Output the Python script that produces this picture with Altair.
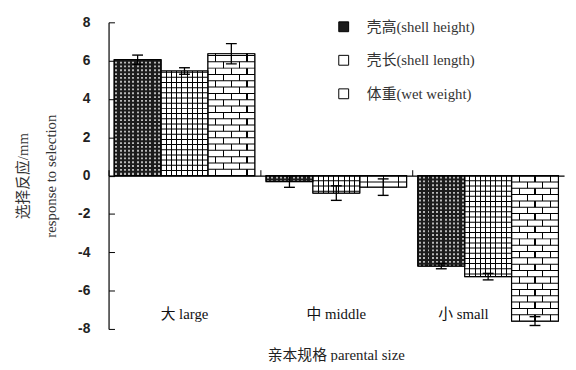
import altair as alt
import pandas as pd

# ---------------- data ----------------
categories = ["大 large", "中 middle", "小 small"]
series = ["壳高(shell height)", "壳长(shell length)", "体重(wet weight)"]
shell_height = [6.05, -0.31, -4.72]
shell_height_err = [0.24, 0.30, 0.14]
shell_length = [5.46, -0.91, -5.27]
shell_length_err = [0.17, 0.38, 0.17]
wet_weight = [6.36, -0.60, -7.59]
wet_weight_err = [0.53, 0.43, 0.23]
y_ticks = [-8, -6, -4, -2, 0, 2, 4, 6, 8]

# ---------------- layout / style ----------------
W, H = 462, 311
PPU = H / 16.0
BAR_PO = 0.12
BW = (W / 3.0) / (3 + 2 * BAR_PO)
SERIF = "Liberation Serif, Noto Sans CJK SC"
SANS = "Liberation Sans, Arial"

table = {
    series[0]: (shell_height, shell_height_err),
    series[1]: (shell_length, shell_length_err),
    series[2]: (wet_weight, wet_weight_err),
}
rows = []
for s, (vals, errs) in table.items():
    for c, v, e in zip(categories, vals, errs):
        rows.append(dict(cat=c, series=s, value=v, lo=v - e, hi=v + e))
df = pd.DataFrame(rows)


def hlines(sname, step, centers=False, parity=None):
    vals = table[sname][0]
    out = []
    for c, v in zip(categories, vals):
        sign = 1 if v > 0 else -1
        k = 1 if not centers else 0
        while True:
            pos = (k + 0.5) * step if centers else k * step
            lim = (k + 1) * step if centers else pos + 0.04
            if lim > abs(v):
                break
            if parity is None or k % 2 == parity:
                out.append(dict(cat=c, series=sname, value=sign * pos))
            k += 1
    return pd.DataFrame(out)


def vgrad(positions, bg, fg, half):
    stops = [{"offset": 0, "color": bg}]
    for p in positions:
        stops += [
            {"offset": p - half, "color": bg},
            {"offset": p - half, "color": fg},
            {"offset": p + half, "color": fg},
            {"offset": p + half, "color": bg},
        ]
    stops.append({"offset": 1, "color": bg})
    return {"gradient": "linear", "x1": 0, "x2": 1, "y1": 0, "y2": 0, "stops": stops}


HALF = 0.55 / BW
dots_grad = vgrad([(i + 0.5) / 11 for i in range(11)], "#1c1c1c", "#b8b8b8", 1.0 / BW)
grid_grad = vgrad([i / 9 for i in range(1, 9)], "white", "black", HALF)
brickA_grad = vgrad([1 / 6, 1 / 2, 5 / 6], "white", "black", HALF)
brickB_grad = vgrad([1 / 3, 2 / 3], "white", "black", HALF)

xaxis = alt.Axis(
    orient="top", offset=-H / 2, domain=True, domainColor="black", domainWidth=1.2,
    ticks=True, tickColor="black", tickSize=6, bandPosition=0, grid=False,
    labelAngle=0, labelBaseline="middle", labelAlign="center",
    labelPadding={"expr": "-146"},
    labelOffset={"condition": {"test": "datum.value == '小 small'", "value": -25}, "value": 0},
    labelFont=SERIF, labelFontSize=15, labelColor="#111", title=None, zindex=1,
)
yaxis = alt.Axis(
    values=y_ticks, domain=True, domainColor="black", domainWidth=1.2,
    ticks=True, tickColor="black", tickSize={"expr": "-6"}, grid=False,
    labelExpr="'' + datum.value", labelFont=SANS, labelFontSize=14, labelFontWeight="bold",
    labelColor="#222", labelPadding=25,
    title=["选择反应/mm", "response to selection"], titleFont=SERIF, titleFontSize=15,
    titleFontWeight="normal", titleColor="#333", titleAngle=-90, titleLineHeight=28,
    titleX=-87, titleY=H / 2, titleBaseline="middle", titleAlign="center",
)

X = alt.X("cat:N", scale=alt.Scale(domain=categories, paddingInner=0, paddingOuter=0), axis=xaxis)
XO = alt.XOffset("series:N", scale=alt.Scale(domain=series, paddingInner=0, paddingOuter=BAR_PO))
YS = alt.Scale(domain=[-8, 8], nice=False, zero=False)


def Y(field="value"):
    return alt.Y(f"{field}:Q", scale=YS, axis=yaxis)


base = alt.Chart(df).mark_bar(stroke="black", strokeWidth=1).encode(
    x=X, xOffset=XO, y=Y(),
    color=alt.Color(
        "series:N",
        scale=alt.Scale(domain=series, range=["#1c1c1c", "white", "white"]),
        legend=alt.Legend(
            title=None, orient="none", legendX=231, legendY=-3, symbolType="square",
            symbolSize=100, symbolStrokeColor="black", symbolStrokeWidth=1,
            labelFont=SERIF, labelFontSize=15, labelColor="#333", labelOffset=16,
            rowPadding=18, padding=0,
        ),
    ),
)


def overlay_bar(sname, grad):
    return alt.Chart(df[df.series == sname]).mark_bar(fill=grad, strokeWidth=0).encode(
        x=X, xOffset=XO, y=Y()
    )


def tick_layer(data, color, thickness):
    return alt.Chart(data).mark_tick(
        orient="horizontal", size=BW, thickness=thickness, color=color, opacity=1, filled=True
    ).encode(x=X, xOffset=XO, y=Y())


layers = [
    base,
    overlay_bar(series[0], dots_grad),
    overlay_bar(series[1], grid_grad),
    overlay_bar(series[2], brickA_grad),
    tick_layer(hlines(series[0], 0.2), "#1c1c1c", 2.0),
    tick_layer(hlines(series[1], 0.27), "black", 1.0),
    tick_layer(hlines(series[2], 0.33, centers=True, parity=1), brickB_grad, 0.33 * PPU),
    tick_layer(hlines(series[2], 0.33), "black", 1.0),
    alt.Chart(df).mark_bar(fillOpacity=0, stroke="black", strokeWidth=1.2).encode(
        x=X, xOffset=XO, y=Y()
    ),
    alt.Chart(df).mark_rule(color="black", strokeWidth=1.3).encode(
        x=X, xOffset=XO, y=Y("lo"), y2="hi:Q"
    ),
    alt.Chart(df).mark_tick(orient="horizontal", size=11, thickness=1.4, color="black", opacity=1).encode(
        x=X, xOffset=XO, y=Y("lo")
    ),
    alt.Chart(df).mark_tick(orient="horizontal", size=11, thickness=1.4, color="black", opacity=1).encode(
        x=X, xOffset=XO, y=Y("hi")
    ),
]

chart = alt.layer(*layers).properties(
    width=W, height=H, autosize="none",
    padding={"left": 102, "top": 12, "right": 4, "bottom": 31},
    title=alt.Title("亲本规格 parental size", orient="bottom", font=SERIF, fontSize=15,
                    fontWeight="normal", color="#222", offset=12, anchor="middle"),
).configure_view(stroke=None)

chart.save("out.html", embed_options={"renderer": "svg", "actions": False})
